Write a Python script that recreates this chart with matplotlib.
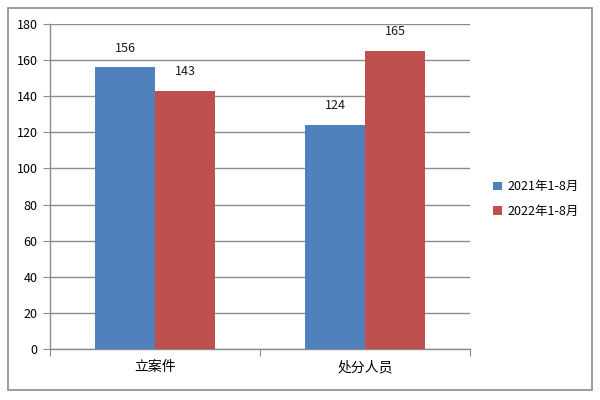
import matplotlib
matplotlib.use("Agg")
import matplotlib.pyplot as plt
from matplotlib.patches import Rectangle
import numpy as np

plt.rcParams['font.family'] = ['Noto Sans CJK SC', 'DejaVu Sans']

categories = ['立案件', '处分人员']
series_names = ['2021年1-8月', '2022年1-8月']
values_2021 = [156, 124]
values_2022 = [143, 165]
colors = ['#4F81BD', '#C0504D']
yticks = [0, 20, 40, 60, 80, 100, 120, 140, 160, 180]

fig = plt.figure(figsize=(6, 4), dpi=100)
fig.patches.append(Rectangle((8/600, 10/400), 584/600, 382/400, transform=fig.transFigure,
                             fill=False, edgecolor='#8c8c8c', linewidth=1.2))
ax = fig.add_axes([50/600, 51/400, 420/600, 325/400])

x = np.arange(len(categories))
w = 60/210
b1 = ax.bar(x - w/2, values_2021, w, color=colors[0], label=series_names[0], zorder=3)
b2 = ax.bar(x + w/2, values_2022, w, color=colors[1], label=series_names[1], zorder=3)
for bars in (b1, b2):
    for r in bars:
        ax.text(r.get_x() + r.get_width()/2, r.get_height() + 7, str(int(r.get_height())),
                ha='center', va='bottom', fontsize=9, color='#1a1a1a')

ax.set_xlim(-0.5, 1.5)
ax.set_ylim(0, 180)
ax.set_yticks(yticks)
ax.set_yticklabels([str(t) for t in yticks], fontsize=9)
ax.yaxis.grid(True, color='#8c8c8c', linewidth=1, zorder=0)
ax.set_axisbelow(True)
ax.set_xticks([-0.5, 0.5, 1.5])
ax.set_xticklabels([])
ax.set_xticks(x, minor=True)
ax.set_xticklabels(categories, minor=True, fontsize=10)
ax.tick_params(axis='x', which='minor', length=0, pad=8)
ax.tick_params(axis='x', which='major', length=5, color='#8c8c8c')
ax.tick_params(axis='y', length=5, color='#8c8c8c', pad=4)
for s in ['top', 'right']:
    ax.spines[s].set_visible(False)
for s in ['left', 'bottom']:
    ax.spines[s].set_color('#8c8c8c')
    ax.spines[s].set_linewidth(1)

fig.legend(handles=[b1, b2], labels=series_names, loc='center left',
           bbox_to_anchor=(482/600, 1 - 199/400), frameon=False, fontsize=9,
           handlelength=0.7, handleheight=0.7, handletextpad=0.4, labelspacing=0.9)

fig.savefig('out.png', dpi=100)
